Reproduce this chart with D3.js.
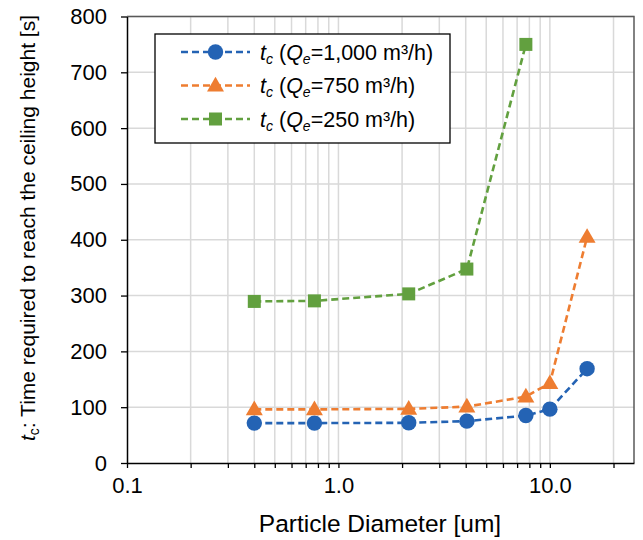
<!DOCTYPE html>
<html>
<head>
<meta charset="utf-8">
<script src="https://cdn.jsdelivr.net/npm/d3@7"></script>
<style>
  body { margin: 0; background: #fff; }
  text { font-family: "Liberation Sans", Arial, sans-serif; fill: #000; }
</style>
</head>
<body>
<svg id="chart" width="643" height="540"></svg>
<script>
// particle diameters [um]
var diameters = [0.4, 0.77, 2.15, 4.05, 7.7, 10, 15];
var diametersGreen = [0.4, 0.77, 2.15, 4.05, 7.7];

// t_c values [s]
var tc1000 = [71.5, 71.5, 72, 75, 85, 96.5, 169];
var tc750 = [96, 96, 97, 101, 119, 143, 405];
var tc250 = [289.5, 290.5, 303, 347.5, 750];

var seriesNames = ["1,000", "750", "250"];
var seriesColors = ["#2463b4", "#ee7d31", "#62a03f"];
var seriesShapes = ["circle", "triangle", "square"];

var xMajor = [0.1, 1, 10];
var xMajorLabels = ["0.1", "1.0", "10.0"];
var yTicks = [0, 100, 200, 300, 400, 500, 600, 700, 800];

var series = [
  { xs: diameters, ys: tc1000 },
  { xs: diameters, ys: tc750 },
  { xs: diametersGreen, ys: tc250 }
];

var svg = d3.select("#chart");
var pLeft = 127, pRight = 634, pTop = 16.5, pBottom = 463;

var x = d3.scaleLog().domain([0.1, 25]).range([pLeft, pRight]);
var y = d3.scaleLinear().domain([0, 800]).range([pBottom, pTop]);

// all gridline positions on the log axis
var xAll = [];
[0.1, 1, 10].forEach(function(d) {
  for (var k = 1; k <= 9; k++) {
    var v = +(d * k).toPrecision(3);
    if (v <= 25) xAll.push(v);
  }
});

var grid = svg.append("g");
grid.selectAll(".vg").data(xAll.filter(function(v) { return v > 0.1; }))
  .enter().append("line")
  .attr("x1", function(d) { return x(d); }).attr("x2", function(d) { return x(d); })
  .attr("y1", pTop).attr("y2", pBottom)
  .attr("stroke", "#d9d9d9").attr("stroke-width", 1.5);
grid.selectAll(".hg").data(yTicks.filter(function(v) { return v > 0; }))
  .enter().append("line")
  .attr("x1", pLeft).attr("x2", pRight)
  .attr("y1", function(d) { return y(d); }).attr("y2", function(d) { return y(d); })
  .attr("stroke", "#d9d9d9").attr("stroke-width", 1.5);

// frame (top and right)
svg.append("path")
  .attr("d", "M" + pLeft + "," + pTop + "H" + pRight + "V" + pBottom)
  .attr("fill", "none").attr("stroke", "#595959").attr("stroke-width", 1.5);

// axes
var xAxis = d3.axisBottom(x).tickValues(xAll).tickSize(5).tickSizeOuter(0)
  .tickFormat(function(d) {
    var i = xMajor.indexOf(d);
    return i >= 0 ? xMajorLabels[i] : "";
  });
var gx = svg.append("g").attr("transform", "translate(0," + pBottom + ")").call(xAxis);
gx.select(".domain").attr("stroke", "#000").attr("stroke-width", 1.5);
gx.selectAll(".tick line").attr("stroke", "#000").attr("stroke-width", 1.3);
gx.selectAll(".tick text").attr("font-size", 22).attr("y", 14).attr("dy", "0.71em")
  .attr("font-family", "Liberation Sans, Arial, sans-serif").attr("fill", "#000");

var yAxis = d3.axisLeft(y).tickValues(yTicks).tickSize(6).tickSizeOuter(0).tickPadding(14);
var gy = svg.append("g").attr("transform", "translate(" + pLeft + ",0)").call(yAxis);
gy.select(".domain").attr("stroke", "#000").attr("stroke-width", 1.5);
gy.selectAll(".tick line").attr("stroke", "#000").attr("stroke-width", 1.3);
gy.selectAll(".tick text").attr("font-size", 22)
  .attr("font-family", "Liberation Sans, Arial, sans-serif").attr("fill", "#000");

// axis titles
svg.append("text")
  .attr("x", 380).attr("y", 532)
  .attr("text-anchor", "middle").attr("font-size", 24.5)
  .text("Particle Diameter [um]");

var yt = svg.append("text")
  .attr("transform", "translate(35," + 228 + ") rotate(-90)")
  .attr("text-anchor", "middle").attr("font-size", 21);
yt.append("tspan").attr("font-style", "italic").text("t");
yt.append("tspan").attr("font-size", 14).attr("dy", 4).text("c");
yt.append("tspan").attr("dy", -4).text(": Time required to reach the ceiling height [s]");

// markers
var triangle = d3.symbol().type(d3.symbolTriangle).size(125);
function drawMarker(g, shape, color, cx, cy) {
  if (shape === "circle") {
    g.append("circle").attr("cx", cx).attr("cy", cy).attr("r", 7.7).attr("fill", color);
  } else if (shape === "triangle") {
    g.append("path").attr("d", triangle()).attr("fill", color)
      .attr("transform", "translate(" + cx + "," + (cy + 1) + ")");
  } else {
    g.append("rect").attr("x", cx - 6.5).attr("y", cy - 6.5)
      .attr("width", 13).attr("height", 13).attr("fill", color);
  }
}

var line = d3.line()
  .x(function(d) { return x(d[0]); })
  .y(function(d) { return y(d[1]); });

series.forEach(function(s, i) {
  var pts = d3.zip(s.xs, s.ys);
  var g = svg.append("g");
  g.append("path").datum(pts).attr("d", line)
    .attr("fill", "none").attr("stroke", seriesColors[i])
    .attr("stroke-width", 2.6).attr("stroke-dasharray", "7,4");
  pts.forEach(function(p) {
    drawMarker(g, seriesShapes[i], seriesColors[i], x(p[0]), y(p[1]));
  });
});

// legend
var lg = svg.append("g");
lg.append("rect").attr("x", 155).attr("y", 34).attr("width", 295).attr("height", 109)
  .attr("fill", "#fff").attr("stroke", "#000").attr("stroke-width", 1.3);
seriesNames.forEach(function(name, i) {
  var ly = 52 + i * 33.5;
  lg.append("line").attr("x1", 181).attr("x2", 250).attr("y1", ly).attr("y2", ly)
    .attr("stroke", seriesColors[i]).attr("stroke-width", 2.6).attr("stroke-dasharray", "7,4");
  drawMarker(lg, seriesShapes[i], seriesColors[i], 215.5, ly);
  var t = lg.append("text").attr("x", 260).attr("y", ly + 7.5).attr("font-size", 21.5);
  t.append("tspan").attr("font-style", "italic").text("t");
  t.append("tspan").attr("font-style", "italic").attr("font-size", 14).attr("dy", 4).text("c");
  t.append("tspan").attr("dy", -4).text(" (");
  t.append("tspan").attr("font-style", "italic").text("Q");
  t.append("tspan").attr("font-style", "italic").attr("font-size", 14).attr("dy", 4).text("e");
  t.append("tspan").attr("dy", -4).text("=" + name + " m³/h)");
});
</script>
</body>
</html>
